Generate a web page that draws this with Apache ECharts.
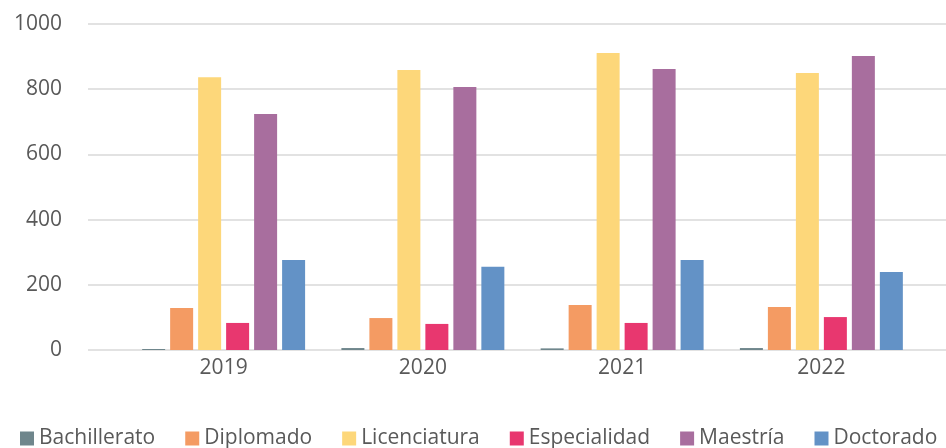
<!DOCTYPE html>
<html>
<head>
<meta charset="utf-8">
<script src="https://cdn.jsdelivr.net/npm/echarts@6/dist/echarts.min.js"></script>
<style>
  html, body { margin: 0; padding: 0; background: #fff; }
  #chart { width: 946px; height: 448px; }
</style>
</head>
<body>
<div id="chart"></div>
<script>
// valores
var years = ['2019', '2020', '2021', '2022'];
var seriesNames = ['Bachillerato', 'Diplomado', 'Licenciatura', 'Especialidad', 'Maestría', 'Doctorado'];
var bachillerato = [3, 6, 5, 6];
var diplomado = [129, 98, 138, 132];
var licenciatura = [837, 859, 911, 850];
var especialidad = [83, 80, 83, 101];
var maestria = [724, 807, 862, 902];
var doctorado = [276, 255, 276, 239];
var yTicks = [0, 200, 400, 600, 800, 1000];

var colors = ['#6f868c', '#f49b63', '#fdd77a', '#e8376f', '#a86e9e', '#6392c6'];
var values = [bachillerato, diplomado, licenciatura, especialidad, maestria, doctorado];
var font = 'Open Sans';
var labelColor = '#595959';

var chart = echarts.init(document.getElementById('chart'));

var series = [];
for (var i = 0; i < seriesNames.length; i++) {
    series.push({
        name: seriesNames[i],
        type: 'bar',
        xAxisIndex: 1,
        yAxisIndex: 1,
        data: values[i],
        barWidth: 23,
        barGap: '21.7%',
        itemStyle: { color: colors[i] },
        emphasis: { disabled: true }
    });
}

var option = {
    animation: false,
    color: colors,
    textStyle: { fontFamily: font },
    legend: {
        data: seriesNames,
        left: 15,
        top: 423,
        width: 1400,
        itemWidth: 14,
        itemHeight: 14,
        itemGap: 30,
        icon: 'rect',
        textStyle: { fontFamily: font, fontSize: 21, color: labelColor }
    },
    grid: [
        // rejilla de fondo (lineas horizontales)
        { left: 88, right: 0, top: 24, bottom: 98 },
        // barras
        { left: 124, right: 25, top: 24, bottom: 98 }
    ],
    xAxis: [
        { gridIndex: 0, type: 'value', min: 0, max: 1, show: false },
        {
            gridIndex: 1,
            type: 'category',
            data: years,
            axisLine: { show: false },
            axisTick: { show: false },
            axisLabel: { fontFamily: font, fontSize: 21, color: labelColor, margin: 8 }
        }
    ],
    yAxis: [
        {
            gridIndex: 0,
            type: 'value',
            min: yTicks[0],
            max: yTicks[yTicks.length - 1],
            interval: 200,
            axisLine: { show: false },
            axisTick: { show: false },
            axisLabel: {
                fontFamily: font, fontSize: 21, color: labelColor, margin: 26,
                formatter: function (v) { return String(v); }
            },
            splitLine: { lineStyle: { color: '#d9d9d9', width: 1.5 } }
        },
        {
            gridIndex: 1,
            type: 'value',
            min: yTicks[0],
            max: yTicks[yTicks.length - 1],
            interval: 200,
            show: false,
            splitLine: { show: false }
        }
    ],
    series: series
};

chart.setOption(option);
</script>
</body>
</html>
